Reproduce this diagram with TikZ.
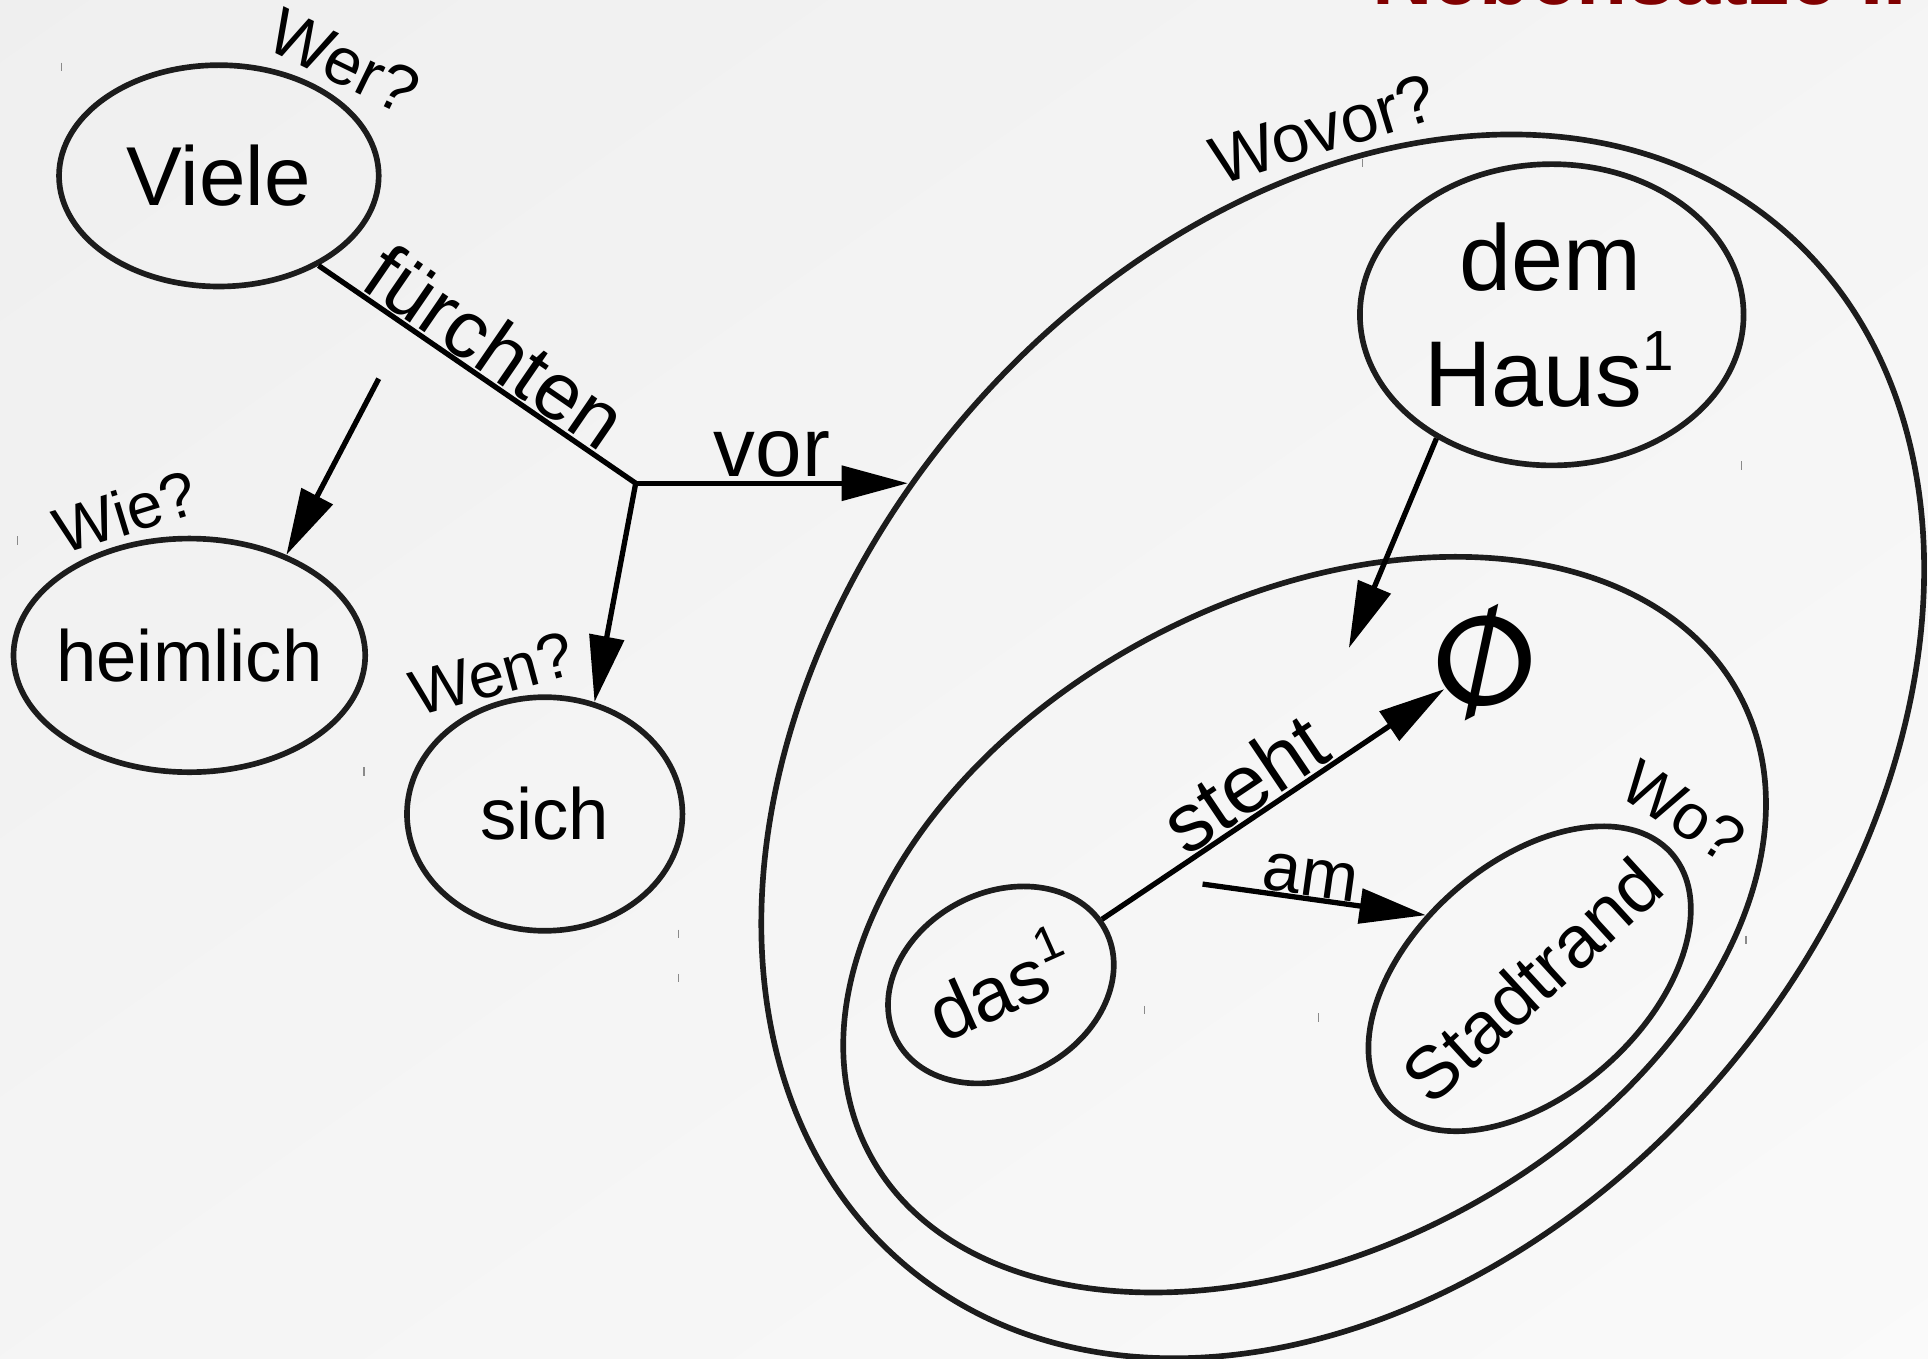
\documentclass[tikz,border=0pt]{standalone}
\usepackage{fontspec}
\setmainfont{Liberation Sans}
\newfontfamily\djv{DejaVu Sans}
\usetikzlibrary{shapes.geometric,arrows.meta}
\definecolor{bgA}{HTML}{EFEFEF}
\definecolor{bgC}{HTML}{FAFAFA}
\definecolor{edge}{HTML}{1C1C1C}
\definecolor{titlered}{HTML}{800000}
\definecolor{tick}{HTML}{8A8A8A}
\begin{document}
\begin{tikzpicture}[x=1pt,y=1pt,
  ell/.style={draw=edge, line width=4.6pt, ellipse, inner sep=0pt},
  conn/.style={draw=black, line width=4.3pt},
  arr/.style={conn, -{Triangle[length=54pt,width=28pt]}},
  qlab/.style={font=\fontsize{52}{52}\selectfont, inner sep=0pt},
  txt/.style={inner sep=0pt},
  big/.style={font=\fontsize{68}{68}\selectfont},
  mid/.style={font=\fontsize{59}{59}\selectfont},
  huge/.style={font=\fontsize{76}{76}\selectfont},
  ticks/.style={draw=tick, line width=1pt}
]
\useasboundingbox (0,0) rectangle (1568,-1105);
\clip (0,0) rectangle (1568,-1105);
\shade[top color=bgA, bottom color=bgC, shading angle=35] (-300,300) rectangle (1868,-1405);

% title (cut off at the top edge)
\node[anchor=base east, text=titlered, font=\fontsize{68}{68}\selectfont\bfseries, inner sep=0pt] (title) at (1551,-4) {Nebensätze II};

% left part
\node[ell, minimum width=260pt, minimum height=180pt] (viele) at (178,-143) {};
\node[txt, big] (vieleT) at (178,-143) {Viele};
\node[ell, minimum width=286pt, minimum height=190pt] (heim) at (154,-533) {};
\node[txt, mid] (heimT) at (154,-533) {heimlich};
\node[ell, minimum width=224pt, minimum height=190pt] (sich) at (443,-662) {};
\node[txt, mid] (sichT) at (443,-662) {sich};

\node[qlab, font=\fontsize{54}{54}\selectfont, rotate=-26] (qwer) at (280,-50) {Wer?};
\node[qlab, rotate=17] (qwie) at (102,-416) {Wie?};
\node[qlab, rotate=15] (qwen) at (400,-548) {Wen?};

\coordinate (j) at (517,-393);
\coordinate (hstart) at (308,-308);

% right part
\node[ell, minimum width=1104pt, minimum height=816pt, rotate=50] (outer) at (1092,-607) {};
\node[ell, minimum width=800pt, minimum height=530pt, rotate=27.6] (inner) at (1061,-752) {};
\node[ell, minimum width=312pt, minimum height=245pt] (haus) at (1262,-256) {};
\node[huge, anchor=base, inner sep=0pt] (dem) at (1261,-236) {dem};
\node[huge, anchor=base, inner sep=0pt] (hausT) at (1260,-331) {Haus\raisebox{30pt}{\fontsize{46}{46}\selectfont 1}};
\node[ell, minimum width=192pt, minimum height=150pt, rotate=28] (das) at (814,-801) {};
\node[txt, font=\fontsize{62}{62}\selectfont, rotate=24] (dasT) at (812,-800) {das\raisebox{26pt}{\fontsize{40}{40}\selectfont 1}};
\node[ell, minimum width=308pt, minimum height=188pt, rotate=41.5] (stadt) at (1244,-796) {};
\node[txt, font=\fontsize{60}{60}\selectfont, rotate=42.5] (stadtT) at (1246,-797) {Stadtrand};
\node[font=\fontsize{100}{100}\selectfont\djv\bfseries, inner sep=0pt, rotate=27] (phiT) at (1208,-538) {∅};
\node[circle, minimum size=80pt, inner sep=0pt] (phi) at (1208,-538) {};

\node[qlab, font=\fontsize{55}{55}\selectfont, rotate=17] (qwovor) at (1076,-105) {Wovor?};
\node[qlab, rotate=-33] (qwo) at (1369,-660) {Wo?};

\coordinate (hausTip) at (1097,-527);
\coordinate (amStart) at (978,-719);

% connectors
\draw[conn] (viele.-42) -- node[sloped, above, pos=0.5, inner sep=1pt, font=\fontsize{66}{66}\selectfont] (lfuer) {fürchten} (j);
\draw[arr] (j) -- node[above, pos=0.5, inner sep=3pt, font=\fontsize{68}{68}\selectfont] (lvor) {vor} (j -| outer.99);
\draw[arr] (j) -- (sich.66);
\draw[arr] (hstart) -- (heim.46);
\draw[arr] (haus.227) -- (hausTip);
\draw[arr] (das.5) -- node[sloped, above, pos=0.47, inner sep=1pt, font=\fontsize{67}{67}\selectfont] (lsteht) {steht} (phi);
\draw[arr] (amStart) -- node[sloped, above, pos=0.47, inner sep=0pt, font=\fontsize{56}{56}\selectfont] (lam) {am} (stadt.107);

% small scan marks
\foreach \p in {(50,-51),(14,-436),(296,-624),(552,-756),(552,-792),(931,-818),(1072,-824),(1108,-129),(1416,-375),(1420,-761)}
  \draw[ticks] \p -- ++(0,-7);
\end{tikzpicture}
\end{document}
